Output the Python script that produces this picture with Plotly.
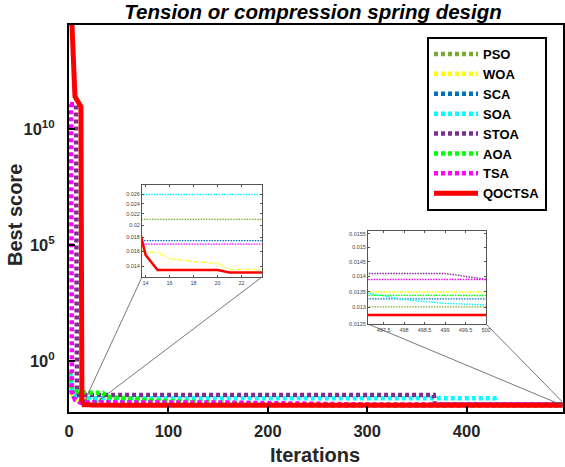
import plotly.graph_objects as go
import math

# ---------------- data (breakpoints of convergence curves) ----------------
names = ["PSO", "WOA", "SCA", "SOA", "STOA", "AOA", "TSA", "QOCTSA"]
colors = ["#77AC30", "#FFFF00", "#0072BD", "#00FFFF", "#7E2F8E", "#00FF00", "#FF00FF", "#FF0000"]

pso_it = [1, 4, 9, 13, 60, 140, 260, 500]
pso_val = [0.06, 0.032, 0.0225, 0.0210, 0.0210, 0.0150, 0.01302, 0.01302]

woa_it = [1, 3, 8, 14, 15, 16, 17, 18, 19, 20, 21, 23, 80, 200, 500]
woa_val = [0.2, 0.04, 0.02, 0.0159, 0.0158, 0.0150, 0.0148, 0.0146, 0.0145, 0.0144, 0.01365, 0.0136, 0.0136, 0.01349, 0.01349]

sca_it = [1, 5, 10, 12, 90, 150, 260, 500]
sca_val = [0.12, 0.03, 0.019, 0.01749, 0.01749, 0.0145, 0.01327, 0.01327]

soa_it = [1, 3, 8, 12, 428, 429, 460, 497, 498, 499, 500]
soa_val = [0.3, 0.06, 0.03, 0.0260, 0.0260, 0.0142, 0.0137, 0.01348, 0.01325, 0.01313, 0.01308]

stoa_it = [1, 7, 8, 10, 367, 368, 499, 500]
stoa_val = [1.2e11, 1.2e11, 0.06, 0.036, 0.036, 0.0141, 0.0141, 0.0139]

aoa_it = [1, 3, 8, 20, 34, 37, 90, 220, 500]
aoa_val = [0.4, 0.08, 0.05, 0.045, 0.045, 0.03, 0.02, 0.0136, 0.01338]

tsa_it = [1, 2, 3, 6, 11, 150, 300, 500]
tsa_val = [1.2e11, 1.2e11, 0.05, 0.022, 0.01698, 0.01698, 0.0139, 0.0139]

qoctsa_it = [1, 2, 3, 6, 11, 12, 13, 14, 15, 20, 21, 23, 60, 150, 500]
qoctsa_val = [5e15, 1e15, 3e14, 2.6e11, 1.05e11, 9.5e10, 0.0236, 0.01546, 0.0136, 0.0136, 0.0133, 0.0133, 0.0130, 0.01277, 0.01277]

series_it = [pso_it, woa_it, sca_it, soa_it, stoa_it, aoa_it, tsa_it, qoctsa_it]
series_val = [pso_val, woa_val, sca_val, soa_val, stoa_val, aoa_val, tsa_val, qoctsa_val]

x_ticks = [0, 100, 200, 300, 400]
y_ticks = [1, 1e5, 1e10]
y_ticktext = ["10<sup>0</sup>", "10<sup>5</sup>", "10<sup>10</sup>"]

in1_xticks = [14, 16, 18, 20, 22]
in1_yticks = [0.014, 0.016, 0.018, 0.020, 0.022, 0.024, 0.026]
in1_yticktext = ["0.014", "0.016", "0.018", "0.02", "0.022", "0.024", "0.026"]
in2_xticks = [497.5, 498, 498.5, 499, 499.5, 500]
in2_yticks = [0.0125, 0.013, 0.0135, 0.014, 0.0145, 0.015, 0.0155]
in2_yticktext = ["0.0125", "0.013", "0.0135", "0.014", "0.0145", "0.015", "0.0155"]

# zoom windows (data space)
in1_xrange = [13.7, 23.7]
in1_yrange = [0.0128, 0.0282]
in2_xrange = [497.12, 500]
in2_yrange = [0.0125, 0.0156]

# ---------------- layout geometry ----------------
W, H = 565, 467
main_px = (69, 562.5, 25, 411.5)      # left, right, top, bottom
in1_px = (142, 262, 185, 277)
in2_px = (368, 486, 231, 324)
main_xrange = [0, 496.5]
main_yrange_log = [-2.16, 14.5]


def xdom(p):
    return [p[0] / W, p[1] / W]


def ydom(p):
    return [1 - p[3] / H, 1 - p[2] / H]


def px_to_main(px, py):
    l, r, t, b = main_px
    xd = main_xrange[0] + (px - l) / (r - l) * (main_xrange[1] - main_xrange[0])
    yl = main_yrange_log[0] + (b - py) / (b - t) * (main_yrange_log[1] - main_yrange_log[0])
    return xd, 10 ** yl


FONT = "Liberation Sans, Arial, sans-serif"

fig = go.Figure()

# main traces
for i, (n, c) in enumerate(zip(names, colors)):
    if n == "QOCTSA":
        line = dict(color=c, width=5)
    else:
        line = dict(color=c, width=4.5, dash="4px,3px")
    fig.add_trace(go.Scatter(x=series_it[i], y=series_val[i], mode="lines", name=n,
                             line=line, xaxis="x", yaxis="y"))

# inset traces
for ax_x, ax_y in (("x2", "y2"), ("x3", "y3")):
    for i, (n, c) in enumerate(zip(names, colors)):
        if n == "QOCTSA":
            line = dict(color=c, width=2.6)
        else:
            line = dict(color=c, width=1.4, dash="1.5px,1.2px")
        fig.add_trace(go.Scatter(x=series_it[i], y=series_val[i], mode="lines", name=n,
                                 line=line, xaxis=ax_x, yaxis=ax_y, showlegend=False,
                                 hoverinfo="skip"))

# connector lines (on main axes)
conns = [
    ((in1_px[0], in1_px[3]), (in1_xrange[0], in1_yrange[0])),
    ((in1_px[1], in1_px[3]), (in1_xrange[1], in1_yrange[0])),
    ((in2_px[0], in2_px[3]), (in2_xrange[0], in2_yrange[0])),
    ((in2_px[1], in2_px[3]), (in2_xrange[1], in2_yrange[0])),
]
for (p, d) in conns:
    a = px_to_main(*p)
    fig.add_trace(go.Scatter(x=[a[0], d[0]], y=[a[1], d[1]], mode="lines",
                             line=dict(color="#555555", width=0.8), showlegend=False,
                             hoverinfo="skip", xaxis="x", yaxis="y"))

tickfont_main = dict(family=FONT, size=16.5, color="#262626", weight="bold")
inset_font = dict(family=FONT, size=5.5, color="#444444")

inset_axis_common = dict(ticks="inside", ticklen=2, tickwidth=0.6, tickcolor="#555",
                         showline=True, linewidth=1, linecolor="#555", mirror="ticks",
                         showgrid=False, zeroline=False, tickfont=inset_font,
                         automargin=False)

fig.update_layout(
    width=W, height=H,
    margin=dict(l=0, r=0, t=0, b=0, autoexpand=False),
    paper_bgcolor="white", plot_bgcolor="white",
    font=dict(family=FONT),
    title=dict(text="Tension or compression spring design",
               font=dict(family=FONT, size=20.5, color="black", weight="bold", style="italic"),
               x=0.554, xanchor="center", y=1 - 12 / H, yanchor="middle"),
    xaxis=dict(domain=xdom(main_px), range=main_xrange, tickvals=x_ticks,
               ticks="inside", ticklen=6, tickwidth=2, tickcolor="black",
               showline=True, linewidth=2, linecolor="black", mirror=True,
               showgrid=False, zeroline=False, tickfont=tickfont_main, anchor="y",
               ticklabelstandoff=4, automargin=False),
    yaxis=dict(domain=ydom(main_px), type="log", range=main_yrange_log,
               tickvals=y_ticks, ticktext=y_ticktext,
               ticks="inside", ticklen=6, tickwidth=2, tickcolor="black",
               showline=True, linewidth=2, linecolor="black", mirror=True,
               showgrid=False, zeroline=False, tickfont=tickfont_main, anchor="x",
               ticklabelstandoff=9, automargin=False),
    xaxis2=dict(domain=xdom(in1_px), range=in1_xrange, tickvals=in1_xticks,
                anchor="y2", **inset_axis_common),
    yaxis2=dict(domain=ydom(in1_px), type="log",
                range=[math.log10(in1_yrange[0]), math.log10(in1_yrange[1])],
                tickvals=in1_yticks, ticktext=in1_yticktext, anchor="x2", **inset_axis_common),
    xaxis3=dict(domain=xdom(in2_px), range=in2_xrange, tickvals=in2_xticks,
                anchor="y3", **inset_axis_common),
    yaxis3=dict(domain=ydom(in2_px), type="log",
                range=[math.log10(in2_yrange[0]), math.log10(in2_yrange[1])],
                tickvals=in2_yticks, ticktext=in2_yticktext, anchor="x3", **inset_axis_common),
    legend=dict(x=427 / W, y=1 - 37 / H, xanchor="left", yanchor="top",
                bgcolor="white", bordercolor="black", borderwidth=2,
                font=dict(family=FONT, size=13, color="black", weight="bold"),
                tracegroupgap=0, itemwidth=44),
    showlegend=True,
    annotations=[
        dict(text="Iterations", x=315 / W, y=1 - 455 / H, xref="paper", yref="paper",
             showarrow=False, font=dict(family=FONT, size=20, color="#262626", weight="bold"),
             xanchor="center", yanchor="middle"),
        dict(text="Best score", x=15 / W, y=1 - 215 / H, xref="paper", yref="paper",
             showarrow=False, textangle=-90,
             font=dict(family=FONT, size=20, color="#262626", weight="bold"),
             xanchor="center", yanchor="middle"),
    ],
)

fig.write_html("out.html")
